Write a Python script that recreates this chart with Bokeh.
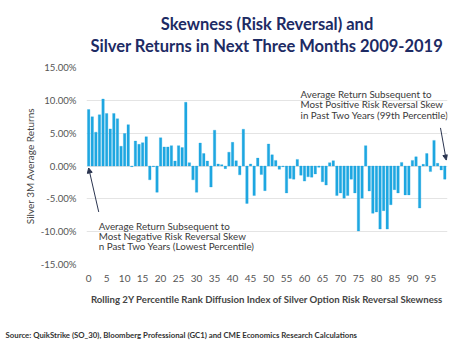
from bokeh.plotting import figure
from bokeh.models import (FixedTicker, NumeralTickFormatter, Title, Label, Arrow,
                          NormalHead, Range1d, ColumnDataSource)
from bokeh.embed import file_html
from bokeh.resources import INLINE

# Percentile rank buckets (0..99)
percentile = list(range(100))
# Silver 3M average returns (%)
returns_pct = [
    8.6, 7.5, 5.15, 7.8, 10.2, 8.0, 5.65, 8.0, 7.2, 3.0,
    4.95, 6.3, -0.1, 3.8, 3.3, 3.55, 4.45, -2.1, -0.1, -4.0,
    4.3, 2.9, 2.9, 3.1, 0.75, 3.1, 2.8, 9.7, 0.5, -2.1,
    -4.0, 3.5, 1.9, 0.75, -3.2, 5.45, 0.3, 0.2, -0.4, 2.1,
    3.6, 0.8, -1.35, 5.6, -5.7, 0.3, -4.5, 1.2, -1.3, -3.75,
    3.35, 1.7, 0.85, -0.5, -0.1, -4.1, -1.9, -2.0, 1.0, -1.4,
    -2.3, -1.65, -1.7, -1.2, -0.2, -2.4, -2.9, 0.5, 0.8, -4.5,
    -4.1, -4.9, -4.5, -2.0, -4.1, -9.9, -4.9, 3.1, -3.8, -7.2,
    -7.0, -9.6, -6.8, -9.6, -5.9, -3.6, -4.1, 0.55, -4.4, -4.4,
    0.85, 1.4, -6.4, 0.25, 1.9, -0.85, 3.9, 0.4, -0.6, -2.0,
]
x_ticks = list(range(0, 100, 5))
y_ticks = [-0.15, -0.10, -0.05, 0.0, 0.05, 0.10, 0.15]

title_lines = ["Skewness (Risk Reversal) and",
               "Silver Returns in Next Three Months 2009-2019"]
y_label = "Silver 3M Average Returns"
x_label = "Rolling 2Y Percentile Rank Diffusion Index of Silver Option Risk Reversal Skewness"
source_text = "Source: QuikStrike (SO_30), Bloomberg Professional (GC1) and CME Economics Research Calculations"
note_low = ["Average Return Subsequent to",
            "Most Negative Risk Reversal Skew",
            "n Past Two Years (Lowest Percentile)"]
note_high = ["Average Return Subsequent to",
             "Most Positive Risk Reversal Skew",
             "in Past Two Years (99th Percentile)"]

FONT = "Lato"
NAVY = "#1d2b64"
BAR = "#1ea7e1"

src = ColumnDataSource(dict(x=percentile, y=[v / 100 for v in returns_pct]))

p = figure(width=467, height=356, output_backend="svg", toolbar_location=None,
           x_range=Range1d(-0.6, 99.75), y_range=Range1d(-0.15, 0.15),
           min_border_left=86, min_border_right=20, min_border_top=67,
           min_border_bottom=92)
p.title = None
p.outline_line_color = None
p.background_fill_color = "white"
p.border_fill_color = "white"

p.vbar(x="x", top="y", bottom=0, width=0.68, source=src,
       fill_color=BAR, line_color=BAR, line_width=0.3)

# axes
p.xaxis.ticker = FixedTicker(ticks=x_ticks)
p.yaxis.ticker = FixedTicker(ticks=y_ticks)
p.yaxis.formatter = NumeralTickFormatter(format="0.00%")
for ax in (p.xaxis[0], p.yaxis[0]):
    ax.axis_line_color = None
    ax.major_tick_line_color = None
    ax.minor_tick_line_color = None
    ax.major_tick_out = 0
    ax.major_tick_in = 0
    ax.major_label_text_font = FONT
    ax.major_label_text_font_size = "10px"
    ax.major_label_text_color = "#555555"
    ax.axis_label_text_font = FONT
    ax.axis_label_text_font_style = "bold"
    ax.axis_label_text_color = "#444444"
    ax.axis_label_text_font_size = "9.6px"
p.yaxis.major_label_text_font_size = "9.6px"
p.yaxis.major_label_standoff = 10
p.xaxis.major_label_standoff = 10
p.yaxis.axis_label = y_label
p.yaxis.axis_label_standoff = 2
p.yaxis.axis_label_text_font_style = "normal"
p.yaxis.axis_label_text_font_size = "10px"
p.yaxis.axis_label_text_baseline = "top"
p.xaxis.axis_label = x_label
p.xaxis.axis_label_standoff = 9

p.xgrid.grid_line_color = None
p.ygrid.grid_line_color = "#e4e4e4"
p.ygrid.grid_line_width = 1.2

# source line below (small spacer first, then the source text)
p.add_layout(Title(text=" ", text_font=FONT, text_font_size="1.5px",
                   text_color="white", standoff=4), "below")
p.add_layout(Title(text=source_text, text_font=FONT, text_font_size="7.8px",
                   text_font_style="bold", text_color="#333333", align="left",
                   offset=-81, standoff=24), "below")

# title lines: spacer nearest the plot, then line 2, then line 1 (outermost)
p.add_layout(Title(text=" ", text_font=FONT, text_font_size="1.5px",
                   text_color="white", standoff=8), "above")
p.add_layout(Title(text=title_lines[1], text_font=FONT, text_font_size="16.5px",
                   text_font_style="bold", text_color=NAVY, align="center",
                   text_line_height=0.85, offset=-6, standoff=0), "above")
p.add_layout(Title(text=title_lines[0], text_font=FONT, text_font_size="16.5px",
                   text_font_style="bold", text_color=NAVY, align="center",
                   text_line_height=0.85, offset=-6, standoff=0), "above")

# annotations
low_y = [-0.0913, -0.1065, -0.122]
for t, yy in zip(note_low, low_y):
    p.add_layout(Label(x=2.8, y=yy, text=t, text_font=FONT, text_font_size="9.8px",
                       text_color="#3a3a3a", text_baseline="middle"))
high_y = [0.1096, 0.0944, 0.0776]
for t, yy in zip(note_high, high_y):
    p.add_layout(Label(x=58.9, y=yy, text=t, text_font=FONT, text_font_size="9.8px",
                       text_color="#3a3a3a", text_baseline="middle"))

p.add_layout(Arrow(x_start=2.8, y_start=-0.07, x_end=0.0, y_end=-0.003,
                   line_color="#2b3550", line_width=1,
                   end=NormalHead(size=5, fill_color="#2b3550", line_color="#2b3550")))
p.add_layout(Arrow(x_start=97.8, y_start=0.058, x_end=99.4, y_end=0.009,
                   line_color="#2b3550", line_width=1,
                   end=NormalHead(size=5, fill_color="#2b3550", line_color="#2b3550")))

open("out.html", "w").write(file_html(p, INLINE))
